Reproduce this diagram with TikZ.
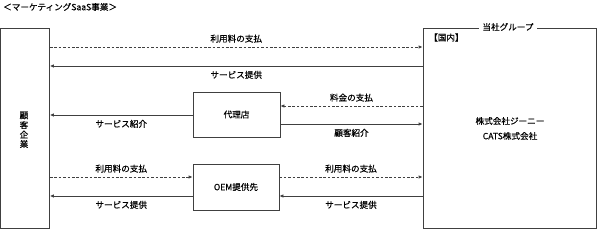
\documentclass[tikz,border=0pt]{standalone}
\usepackage{fontspec}
\setmainfont[FakeBold=0.5]{Noto Sans CJK JP}
\usetikzlibrary{arrows.meta}
\begin{document}
\begin{tikzpicture}[x=1pt,y=-1pt,
  font=\fontsize{8.6}{10.4}\selectfont,
  lc/.style={draw=black!75, line width=0.8pt},
  bx/.style={lc, rectangle, inner sep=0pt, align=center},
  solidarr/.style={lc, -{Latex[length=4pt,width=3.6pt]}},
  dasharr/.style={lc, dash pattern=on 2.6pt off 1.8pt, -{Latex[length=4pt,width=3.6pt]}},
  lbl/.style={inner sep=1pt, text=black}]
\useasboundingbox (0,0) rectangle (598,229);
% title
\node[lbl, anchor=west] (title) at (2,7) {＜マーケティングSaaS事業＞};
% main boxes
\node[bx, minimum width=49pt, minimum height=200pt] (cust) at (25,128) {};
\node[lbl] (c1) at (24,115.5) {顧};
\node[lbl] (c2) at (24,125) {客};
\node[lbl] (c3) at (24,134.5) {企};
\node[lbl] (c4) at (24,144) {業};
\node[bx, minimum width=173pt, minimum height=200pt] (grp) at (509.5,128) {};
\node[lbl, fill=white, inner xsep=3pt] (grplbl) at (508,27) {当社グループ};
\node[lbl, anchor=west] (dom) at (428,37.5) {【国内】};
\node[lbl] (g1) at (510,121) {株式会社ジーニー};
\node[lbl] (g2) at (510,136) {CATS株式会社};
\node[bx, minimum width=87pt, minimum height=45pt] (agent) at (236.5,114.5) {代理店};
\node[bx, minimum width=86pt, minimum height=46pt] (oem) at (236,187) {OEM提供先};
% levels
\coordinate (r1) at (0,47);
\coordinate (r2) at (0,66);
\coordinate (r3) at (0,106);
\coordinate (r4) at (0,115);
\coordinate (r5) at (0,124);
\coordinate (r6) at (0,177);
\coordinate (r7) at (0,196);
% connectors
\draw[dasharr] (cust.east |- r1) -- node[lbl, above=3pt] {利用料の支払} (grp.west |- r1);
\draw[solidarr] (grp.west |- r2) -- node[lbl, below=3.5pt] {サービス提供} (cust.east |- r2);
\draw[dasharr] (grp.west |- r3) -- node[lbl, above=3pt] {料金の支払} (agent.east |- r3);
\draw[solidarr] (agent.west |- r4) -- node[lbl, below=3.5pt] {サービス紹介} (cust.east |- r4);
\draw[solidarr] (agent.east |- r5) -- node[lbl, below=3.5pt] {顧客紹介} (grp.west |- r5);
\draw[dasharr] (cust.east |- r6) -- node[lbl, above=3pt] {利用料の支払} (oem.west |- r6);
\draw[solidarr] (oem.west |- r7) -- node[lbl, below=3.5pt] {サービス提供} (cust.east |- r7);
\draw[dasharr] (oem.east |- r6) -- node[lbl, above=3pt] {利用料の支払} (grp.west |- r6);
\draw[solidarr] (grp.west |- r7) -- node[lbl, below=3.5pt] {サービス提供} (oem.east |- r7);
\end{tikzpicture}
\end{document}
